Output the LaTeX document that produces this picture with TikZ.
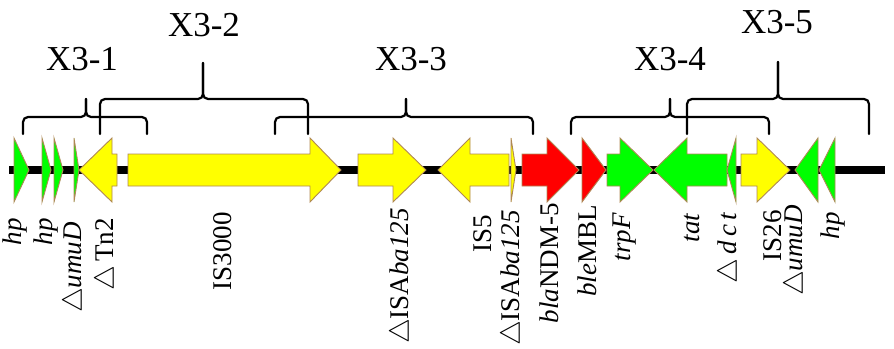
\documentclass[tikz,border=0pt]{standalone}
\usepackage{fontspec}
\setmainfont{Liberation Serif}
\definecolor{ggreen}{RGB}{0,255,0}
\definecolor{gyellow}{RGB}{255,255,0}
\definecolor{gred}{RGB}{255,0,0}
\definecolor{gedge}{RGB}{175,135,85}
\tikzset{
  gene/.style={draw=gedge, line width=0.9pt, line join=miter},
  backbone/.style={line width=8pt, black},
  bracestyle/.style={line width=2.2pt, rounded corners=5pt, line cap=round},
  grp/.style={font=\fontsize{35}{40}\selectfont, anchor=base, inner sep=0pt},
  glabel/.style={font=\fontsize{27}{30}\selectfont, rotate=90, anchor=east, inner sep=0pt}
}
\newcommand{\genR}[4]{\draw[gene,fill=#4] (#1,154) -- (#2,154) -- (#2,138) -- (#3,170) -- (#2,202) -- (#2,186) -- (#1,186) -- cycle;}
\newcommand{\genL}[4]{\draw[gene,fill=#4] (#3,154) -- (#2,154) -- (#2,138) -- (#1,170) -- (#2,202) -- (#2,186) -- (#3,186) -- cycle;}
\newcommand{\genT}[3]{\draw[gene,fill=#3] (#1,138) -- (#2,170) -- (#1,202) -- cycle;}
\newcommand{\grpbrace}[5]{% left, tip, right, bar y, tip top y
  \draw[bracestyle] (#1,134) |- (#2,#4) -- (#2,#5);
  \draw[bracestyle] (#3,134) |- (#2,#4) -- (#2,#5);}
\newcommand{\tri}{\scalebox{1.12}{$\triangle$}}
\begin{document}
\begin{tikzpicture}[x=1pt,y=-1pt]
\useasboundingbox (0,0) rectangle (894,348);
% backbone
\coordinate (bbL) at (9,170);
\coordinate (bbR) at (885,170);
\draw[backbone] (bbL) -- (bbR);
% genes
\genT{14}{29}{ggreen}
\genT{42}{51}{ggreen}
\genT{54}{63}{ggreen}
\genT{74}{79}{ggreen}
\genL{79}{112}{117}{gyellow}
\genR{128}{310}{341}{gyellow}
\genR{358}{393}{426}{gyellow}
\genL{438}{470}{509}{gyellow}
\genT{511}{516}{gyellow}
\genR{522}{547}{579}{gred}
\genT{582}{606}{gred}
\genR{607}{620}{653}{ggreen}
\genL{654}{687}{727}{ggreen}
\genT{736}{727}{ggreen}
\genR{741}{757}{790}{gyellow}
\genT{818}{795}{ggreen}
\genT{835}{819}{ggreen}
% braces
\grpbrace{23}{86}{147}{117}{99}
\grpbrace{100}{203}{308}{99}{63}
\grpbrace{275}{406}{533}{117}{99}
\grpbrace{571}{670}{769}{117}{99}
\grpbrace{687}{778}{869}{99}{62}
% group labels
\node[grp] (x31) at (82,70) {X3-1};
\node[grp] (x32) at (204,36) {X3-2};
\node[grp] (x33) at (411,70) {X3-3};
\node[grp] (x34) at (670,70) {X3-4};
\node[grp] (x35) at (777,33) {X3-5};
% gene labels
\node[glabel] (l1) at (15,218) {\textit{hp}};
\node[glabel] (l2) at (46,218) {\textit{hp}};
\node[glabel] (l3) at (75,222) {\tri\textit{umuD}};
\node[glabel] (l4) at (107,218) {\tri\,Tn2};
\node[glabel] (l5) at (223,212) {IS3000};
\node[glabel] (l6) at (402,208) {\tri ISA\textit{ba125}};
\node[glabel] (l7) at (483,215) {IS5};
\node[glabel] (l8) at (513,210) {\tri ISA\textit{ba125}};
\node[glabel] (l9) at (549,203) {\textit{bla}NDM-5};
\node[glabel] (l10) at (587,205) {\textit{ble}MBL};
\node[glabel] (l11) at (625,213) {\textit{trpF}};
\node[glabel] (l12) at (692,213) {\textit{tat}};
\node[glabel] (l13) at (730,212) {\tri\,\textit{d\thinspace c\thinspace t}};
\node[glabel] (l14) at (773,210) {IS26};
\node[glabel] (l15) at (796,205) {\tri\textit{umuD}};
\node[glabel] (l16) at (833,212) {\textit{hp}};
\end{tikzpicture}
\end{document}
